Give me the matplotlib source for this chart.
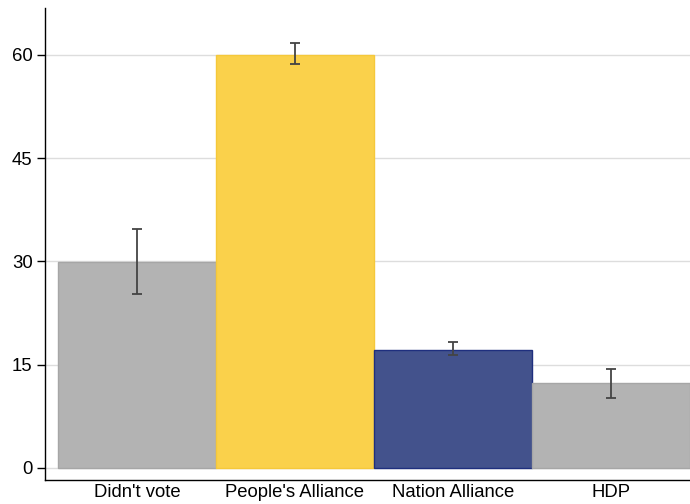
import matplotlib
matplotlib.use("Agg")
from matplotlib import pyplot as plt

# vote share by bloc, with 95% CI
labels = ["Didn't vote", "People's Alliance", "Nation Alliance", "HDP"]
values = [29.9, 60.0, 17.2, 12.3]
lower = [25.3, 58.6, 16.4, 10.1]
upper = [34.7, 61.7, 18.3, 14.4]
colors = ["#b3b3b3", "#fad14b", "#43528c", "#b3b3b3"]
edges = ["#a6a6a6", "#f5c83a", "#1f2f7e", "#a6a6a6"]

plt.rcParams['font.family'] = ['Liberation Sans', 'DejaVu Sans']

fig = plt.figure(figsize=(6.9, 5.04), dpi=100)
ax = fig.add_axes([45/690, 24/504, 645/690, 472/504])

x = list(range(len(labels)))
yerr = [[v - l for v, l in zip(values, lower)], [u - v for v, u in zip(values, upper)]]
ax.bar(x, values, width=1.0, color=colors, edgecolor=edges, linewidth=1, zorder=2)
ax.errorbar(x, values, yerr=yerr, fmt="none", ecolor="#444444", elinewidth=1.3,
            capsize=3.5, capthick=1.3, zorder=3)

ax.set_xlim(-0.582, 3.5)
ax.set_ylim(-1.75, 66.8)
ax.set_yticks([0, 15, 30, 45, 60])
ax.set_xticks(x)
ax.set_xticklabels(labels)
ax.tick_params(axis="x", length=0, labelsize=13.3, pad=3)
ax.tick_params(axis="y", length=6, width=1, labelsize=13.3, pad=3)
ax.yaxis.grid(True, color="#dddddd", linewidth=1, zorder=0)
ax.set_axisbelow(True)
for s in ["top", "right"]:
    ax.spines[s].set_visible(False)
ax.spines["left"].set_linewidth(1)
ax.spines["bottom"].set_linewidth(1)

fig.savefig("out.png", dpi=100)
